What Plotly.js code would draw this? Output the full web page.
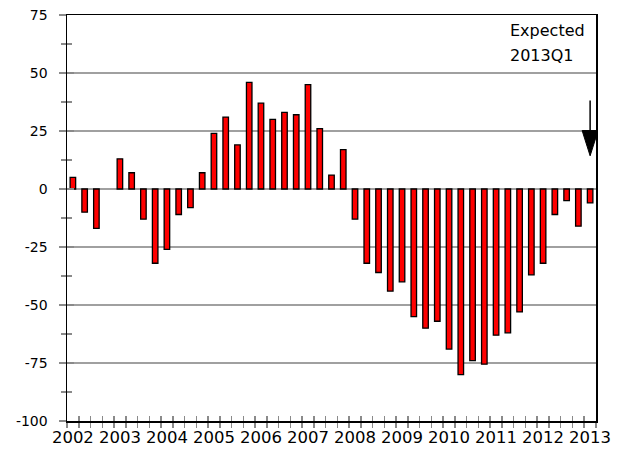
<!DOCTYPE html>
<html>
<head>
<meta charset="utf-8">
<script src="https://cdn.plot.ly/plotly-3.0.1.min.js"></script>
<style>html,body{margin:0;padding:0;background:#fff;}#chart{width:617px;height:450px;}</style>
</head>
<body>
<div id="chart"></div>
<script>
// Quarterly values 2002Q1 .. 2013Q1 (last = expected 2013Q1)
const values = [5, -10, -17, null, 13, 7, -13, -32, -26, -11, -8, 7,
                24, 31, 19, 46, 37, 30, 33, 32, 45, 26, 6, 17,
                -13, -32, -36, -44, -40, -55, -60, -57, -69, -80, -74, -75.5,
                -63, -62, -53, -37, -32, -11, -5, -16, -6];
const yearLabels = ['2002','2003','2004','2005','2006','2007','2008','2009','2010','2011','2012','2013'];
const yTickVals = [-100, -75, -50, -25, 0, 25, 50, 75];
const yTickText = ['-100', '-75', '-50', '-25', '0', '25', '50', '75'];
const noteLines = ['Expected', '2013Q1'];
// arrow for expected value: tail, head base, tip (in data units)
const arrowTail = 38.2, arrowBase = 25.2, arrowTip = 14.3, arrowHalf = 0.68;

const idx = values.map((v, i) => i);
const yearPos = yearLabels.map((y, i) => i * 4);
const bounds = [];
for (let i = 0; i <= values.length; i++) bounds.push(i - 0.5);
const lastIdx = values.length - 1;

const FONT = 'DejaVu Sans';
const TICKC = '#8a8a8a';
const GRIDC = '#a0a0a0';
const xr = [-0.5, values.length - 0.5];
const yr = [-100, 75];

const traces = [
  {
    type: 'bar', x: idx, y: values, width: 0.47,
    marker: {color: '#ff0000', line: {color: '#000000', width: 1.3}},
    hoverinfo: 'x+y', showlegend: false
  },
  {
    type: 'scatter', mode: 'markers', x: idx, y: values,
    xaxis: 'x2', yaxis: 'y2', marker: {opacity: 0, size: 1},
    hoverinfo: 'skip', showlegend: false
  }
];

const layout = {
  width: 617, height: 450,
  margin: {l: 67, r: 21, t: 15, b: 29, pad: 0},
  paper_bgcolor: '#ffffff', plot_bgcolor: '#ffffff',
  font: {family: FONT, color: '#000000', size: 14},
  showlegend: false,
  bargap: 0,
  xaxis: {
    range: xr, autorange: false, fixedrange: true,
    tickmode: 'array', tickvals: yearPos, ticktext: yearLabels,
    ticks: 'outside', ticklen: 1, tickcolor: 'rgba(0,0,0,0)',
    tickfont: {family: FONT, size: 16.5, color: '#000'},
    minor: {tickmode: 'array', tickvals: bounds, ticks: 'outside', ticklen: 5, tickwidth: 1.5, tickcolor: TICKC, showgrid: false},
    showgrid: false, zeroline: false,
    showline: true, linecolor: '#000', linewidth: 1.5, mirror: true
  },
  xaxis2: {
    overlaying: 'x', anchor: 'y2', side: 'bottom',
    range: xr, autorange: false, fixedrange: true,
    tickmode: 'array', tickvals: bounds,
    ticks: 'inside', ticklen: 5, tickwidth: 1.5, tickcolor: TICKC,
    showticklabels: false, showgrid: false, zeroline: false, showline: false
  },
  yaxis: {
    range: yr, autorange: false, fixedrange: true,
    tickmode: 'array', tickvals: yTickVals, ticktext: yTickText,
    ticks: 'outside', ticklen: 7, tickwidth: 1.5, tickcolor: TICKC,
    ticklabelstandoff: 8,
    tickfont: {family: FONT, size: 14, color: '#000'},
    minor: {dtick: 12.5, tick0: 0, ticks: 'outside', ticklen: 5, tickwidth: 1.5, tickcolor: TICKC, showgrid: false},
    showgrid: true, gridcolor: GRIDC, gridwidth: 1.3,
    zeroline: true, zerolinecolor: GRIDC, zerolinewidth: 1.3,
    showline: true, linecolor: '#000', linewidth: 1.5, mirror: true
  },
  yaxis2: {
    overlaying: 'y', anchor: 'x2', side: 'left',
    range: yr, autorange: false, fixedrange: true,
    tickmode: 'array', tickvals: yTickVals,
    ticks: 'inside', ticklen: 7, tickwidth: 1.5, tickcolor: TICKC,
    minor: {dtick: 12.5, tick0: 0, ticks: 'inside', ticklen: 5, tickwidth: 1.5, tickcolor: TICKC, showgrid: false},
    showticklabels: false, showgrid: false, zeroline: false, showline: false
  },
  annotations: [
    {xref: 'x', yref: 'y', x: 37, y: 68.4, xanchor: 'left', yanchor: 'middle',
     text: noteLines[0], showarrow: false, font: {family: FONT, size: 16, color: '#000'}},
    {xref: 'x', yref: 'y', x: 37, y: 57.6, xanchor: 'left', yanchor: 'middle',
     text: noteLines[1], showarrow: false, font: {family: FONT, size: 16, color: '#000'}}
  ],
  shapes: [
    {type: 'line', xref: 'x', yref: 'y', x0: lastIdx, x1: lastIdx, y0: arrowTail, y1: arrowBase,
     line: {color: '#000', width: 1.5}},
    {type: 'path', xref: 'x', yref: 'y',
     path: 'M ' + (lastIdx - arrowHalf) + ' ' + arrowBase + ' L ' + (lastIdx + arrowHalf) + ' ' + arrowBase +
           ' L ' + lastIdx + ' ' + arrowTip + ' Z',
     fillcolor: '#000', line: {color: '#000', width: 1}}
  ]
};

Plotly.newPlot('chart', traces, layout, {displayModeBar: false, staticPlot: true});
</script>
</body>
</html>
